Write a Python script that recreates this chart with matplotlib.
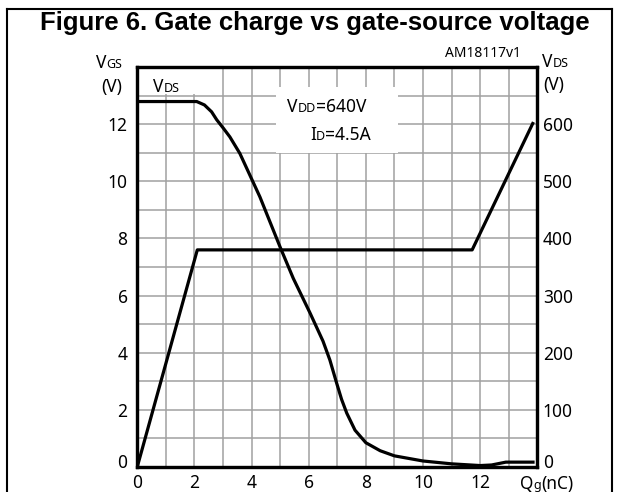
import numpy as np
import matplotlib
matplotlib.use("Agg")
import matplotlib.pyplot as plt
from matplotlib.transforms import IdentityTransform, ScaledTranslation
from matplotlib.lines import Line2D
from matplotlib.patches import Rectangle

# gate charge curves
qg_vgs = [0.0, 2.1, 11.72, 13.84]
vgs = [0.0, 7.6, 7.6, 12.03]

qg_vds = [0.0, 2.08, 2.35, 2.6, 2.78, 3.0, 3.24, 3.59, 4.29, 4.99, 5.46, 6.04,
          6.5, 6.74, 6.98, 7.15, 7.33, 7.62, 8.0, 8.5, 9.0, 10.0, 11.0, 12.0,
          12.4, 12.9, 13.85]
vds = [640, 640, 634, 622, 608, 594, 578, 549, 473, 386, 330, 270,
       220, 187, 146, 118, 94, 64, 42, 28, 19, 10, 5, 2,
       3, 8, 8]

x_ticks = [0, 2, 4, 6, 8, 10, 12]
vgs_ticks = [0, 2, 4, 6, 8, 10, 12]
vds_ticks = [0, 100, 200, 300, 400, 500, 600]

W, H = 619, 492
FONT = "Noto Sans"
BIG = 12.5
SMALL = 9

plt.rcParams["font.family"] = [FONT, "DejaVu Sans"]

fig = plt.figure(figsize=(W / 100, H / 100), dpi=100)
ax = fig.add_axes([137.3 / W, 1 - 466.7 / H, 400 / W, 399.4 / H])
ax2 = ax.twinx()

ax.set_xlim(0, 14)
ax.set_ylim(0, 14)
ax2.set_ylim(0, 700)

ax.set_xticks(x_ticks)
ax.set_xticklabels([str(v) for v in x_ticks])
ax.set_yticks(vgs_ticks)
ax.set_yticklabels([str(v) for v in vgs_ticks])
ax2.set_yticks(vds_ticks)
ax2.set_yticklabels([str(v) for v in vds_ticks])
ax.set_xticks(np.arange(0, 15), minor=True)
ax.set_yticks(np.arange(0, 15), minor=True)

ax.tick_params(which="both", length=0, labelsize=BIG)
ax.tick_params(axis="y", pad=7)
ax.tick_params(axis="x", pad=5)
ax2.tick_params(length=0, labelsize=BIG, pad=4)

# the "0" labels sit a little above the bottom spine in the original
lift = ScaledTranslation(0, 4 / 72, fig.dpi_scale_trans)
for lbl in (ax.get_yticklabels()[0], ax2.get_yticklabels()[0]):
    lbl.set_transform(lbl.get_transform() + lift)

ax.grid(which="both", color="#a0a0a0", lw=1.1)
ax.set_axisbelow(True)
for a in (ax, ax2):
    for s in a.spines.values():
        s.set_linewidth(2.3)

# white patches behind the in-plot labels
ax.add_patch(Rectangle((4.87, 11.0), 4.26, 2.3, facecolor="white", edgecolor="none", zorder=1.5))
ax.add_patch(Rectangle((0.25, 13.05), 1.85, 0.9, facecolor="white", edgecolor="none", zorder=1.5))

ax.plot(qg_vgs, vgs, color="black", lw=2.3, zorder=3)
ax2.plot(qg_vds, vds, color="black", lw=2.3, zorder=3)


def rich(x, y, parts, ha="left", weight="normal"):
    # x, y in image pixels (from top-left); parts drawn on one baseline
    renderer = fig.canvas.get_renderer()
    texts = []
    for s, size in parts:
        t = fig.text(0, 0, s, fontsize=size, va="baseline", ha="left",
                     transform=IdentityTransform(), weight=weight)
        texts.append(t)
    widths = [t.get_window_extent(renderer).width for t in texts]
    x0 = x
    if ha == "center":
        x0 -= sum(widths) / 2
    elif ha == "right":
        x0 -= sum(widths)
    for t, w in zip(texts, widths):
        t.set_position((x0, H - y))
        x0 += w


rich(122, 68, [("V", BIG), ("GS", SMALL)], ha="right")
rich(122, 92, [("(V)", BIG)], ha="right")
rich(542, 67, [("V", BIG), ("DS", SMALL)])
rich(543, 90, [("(V)", BIG)])
rich(153, 92, [("V", BIG), ("DS", SMALL)])
rich(287, 112, [("V", BIG), ("DD", SMALL), ("=640V", BIG)])
rich(310, 140, [("I", BIG), ("D", SMALL), ("=4.5A", BIG)])
rich(520, 489, [("Q", BIG), ("g", SMALL), ("(nC)", BIG)])
rich(521, 57, [("AM18117v1", 10)], ha="right")

fig.text(315 / W, 1 - 30 / H, "Figure 6. Gate charge vs gate-source voltage",
         ha="center", va="baseline", fontsize=18.5, weight="bold",
         family="Liberation Sans")

# outer frame of the datasheet figure
for xs, ys in (([7, 612], [9, 9]), ([7, 7], [9, 492]), ([612, 612], [9, 492])):
    fig.add_artist(Line2D([v / W for v in xs], [1 - v / H for v in ys],
                          color="black", lw=1.5, transform=fig.transFigure))

fig.savefig("out.png", dpi=100)
